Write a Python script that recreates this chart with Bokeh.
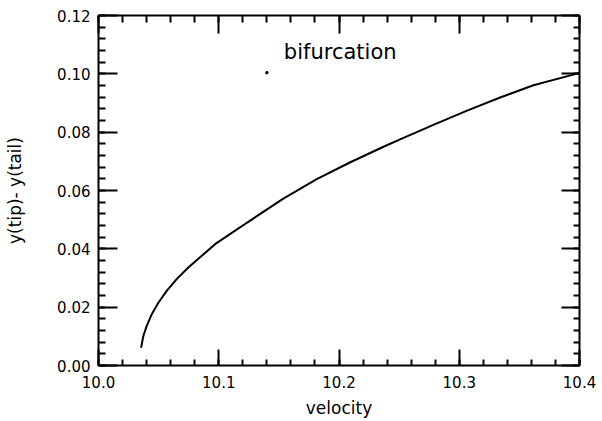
import numpy as np
from bokeh.plotting import figure
from bokeh.models import (LinearAxis, FixedTicker, PrintfTickFormatter, Range1d, Label,
                          CustomJSTickFormatter)
from bokeh.embed import file_html
from bokeh.resources import INLINE

# --- data ---
velocity = [10.0354, 10.0373, 10.0401, 10.0443, 10.0498, 10.0567, 10.065, 10.0747,
            10.0859, 10.0969, 10.1121, 10.124, 10.1537, 10.1815, 10.209, 10.237, 10.2508,
            10.2785, 10.306, 10.334, 10.3617, 10.3964, 10.4]
dy = [0.0061, 0.0101, 0.0136, 0.0176, 0.0215, 0.0256, 0.0296, 0.0336,
      0.0376, 0.0416, 0.0458, 0.0491, 0.0572, 0.0639, 0.0696, 0.075, 0.0775,
      0.0825, 0.0873, 0.0919, 0.0961, 0.0999, 0.1003]
speck_x = [10.140]
speck_y = [0.1004]

x_major = [10.0, 10.1, 10.2, 10.3, 10.4]
x_minor = [round(10.0 + 0.02 * i, 2) for i in range(21)]
y_major = [0.0, 0.02, 0.04, 0.06, 0.08, 0.10, 0.12]
y_minor = [round(0.004 * i, 3) for i in range(31)]

title_text = "bifurcation"
x_label = "velocity"
y_label = "y(tip)- y(tail)"

FONT = "DejaVu Sans"

p = figure(width=602, height=421, output_backend="svg", toolbar_location=None,
           x_range=Range1d(10.0, 10.4), y_range=Range1d(0.0, 0.12),
           x_axis_type=None, y_axis_type=None,
           min_border_left=98, min_border_right=23, min_border_top=15, min_border_bottom=56)
p.outline_line_color = None
p.background_fill_color = "white"
p.border_fill_color = "white"

xt = FixedTicker(ticks=x_major, minor_ticks=x_minor)
yt = FixedTicker(ticks=y_major, minor_ticks=y_minor)

def style(ax, major_in, minor_in, labels=True):
    ax.axis_line_width = 2
    ax.axis_line_color = "black"
    ax.major_tick_line_width = 2
    ax.minor_tick_line_width = 2
    ax.major_tick_line_color = "black"
    ax.minor_tick_line_color = "black"
    ax.major_tick_in = major_in
    ax.major_tick_out = 0
    ax.minor_tick_in = minor_in
    ax.minor_tick_out = 0
    if labels:
        ax.major_label_text_font = FONT
        ax.major_label_text_font_size = "15px"
        ax.major_label_text_color = "black"
        ax.axis_label_text_font = FONT
        ax.axis_label_text_font_size = "17px"
        ax.axis_label_text_font_style = "normal"
        ax.axis_label_text_color = "black"
    else:
        ax.formatter = CustomJSTickFormatter(code="return '';")
        ax.major_label_text_font_size = "1px"
        ax.major_label_standoff = 0

bottom = LinearAxis(ticker=xt, formatter=PrintfTickFormatter(format="%.1f"), axis_label=x_label)
style(bottom, 16, 6)
bottom.major_label_standoff = 10
bottom.axis_label_standoff = 7
p.add_layout(bottom, "below")

left = LinearAxis(ticker=yt, formatter=PrintfTickFormatter(format="%.2f"), axis_label=y_label)
style(left, 19, 7)
left.major_label_standoff = 8
left.axis_label_standoff = 29
p.add_layout(left, "left")

top = LinearAxis(ticker=xt)
style(top, 18, 7, labels=False)
p.add_layout(top, "above")

right = LinearAxis(ticker=yt)
style(right, 18, 6, labels=False)
p.add_layout(right, "right")

p.line(velocity, dy, line_color="black", line_width=2)
p.scatter(speck_x, speck_y, size=2.5, color="black")

p.add_layout(Label(x=10.201, y=0.1075, text=title_text, text_font=FONT,
                   text_font_size="21px", text_color="black", text_align="center",
                   text_baseline="alphabetic"))

open("out.html", "w").write(file_html(p, INLINE))
